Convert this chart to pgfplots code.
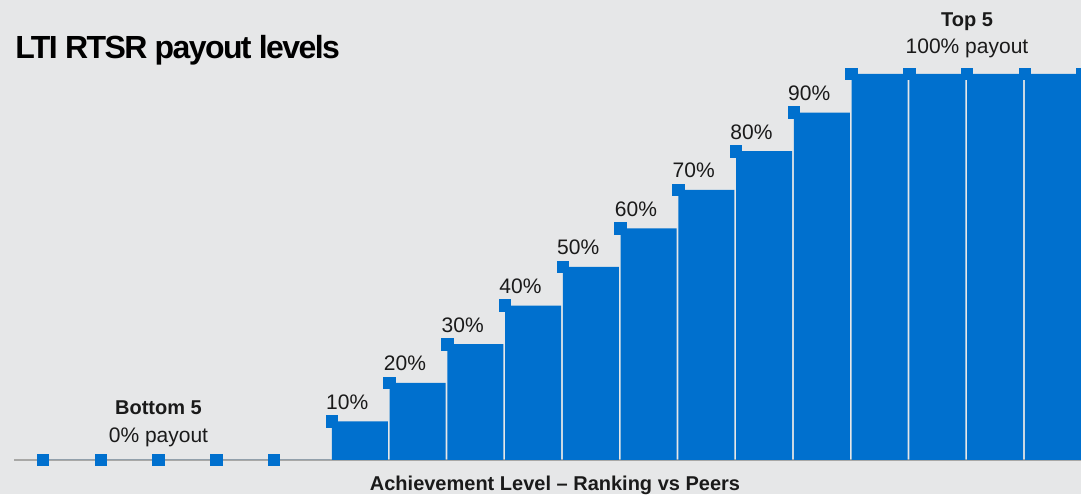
\documentclass[border=0pt]{standalone}
\usepackage{fontspec}
\setmainfont{Liberation Sans}
\newfontfamily\titlefont[LetterSpace=-5]{Liberation Sans}
\usepackage{pgfplots}
\usepackage{pgfplotstable}
\pgfplotsset{compat=1.18}

\definecolor{bg}{RGB}{230,231,232}
\definecolor{barblue}{RGB}{0,112,206}
\definecolor{axgrey}{RGB}{168,168,166}
\definecolor{txt}{RGB}{26,26,26}

% rank position, payout in %
\pgfplotstableread{
i v
0 0
1 0
2 0
3 0
4 0
5 10
6 20
7 30
8 40
9 50
10 60
11 70
12 80
13 90
14 100
15 100
16 100
17 100
18 100
}\payout

\pgfplotstableread{
i v
5 10
6 20
7 30
8 40
9 50
10 60
11 70
12 80
13 90
}\steps

\begin{document}
\begin{tikzpicture}[x=0.5pt, y=0.5pt] % 1 px of the reference = 0.5pt
\path[use as bounding box, clip] (0,0) rectangle (1081,494);
\fill[bg] (0,0) rectangle (1081,494);
\begin{axis}[
    at={(0,0)}, anchor=south west,
    scale only axis, width=540.5pt, height=247pt,
    xmin=-0.7446, xmax=17.974, ymin=-8.81, ymax=119.17,
    axis lines=none, ticks=none, clip=false,
]
    \addplot[axgrey, line width=1pt, no marks] coordinates {(-0.502,0) (18.5,0)};
    \addplot[ybar, bar width=0.97, bar shift=0pt, fill=barblue, draw=none]
        table[x expr=\thisrow{i}+0.485, y=v] {\payout};
    \addplot[only marks, mark=square*, mark size=2.9pt, color=barblue]
        table[x=i, y=v] {\payout};
    \addplot[draw=none, no marks,
        nodes near coords={\pgfmathprintnumber[fixed,precision=0,assume math mode=true]{\pgfplotspointmeta}\%},
        nodes near coords style={anchor=base west, inner sep=0pt, xshift=-3pt, yshift=6pt,
            font=\fontsize{10.5}{12}\selectfont, text=txt}]
        table[x=i, y=v] {\steps};
    \node[anchor=base, inner sep=0pt, font=\fontsize{10}{12}\selectfont\bfseries, text=txt]
        at (axis cs:2,11.9) {Bottom 5};
    \node[anchor=base, inner sep=0pt, font=\fontsize{10.5}{12}\selectfont, text=txt]
        at (axis cs:2,4.66) {0\% payout};
    \node[anchor=base, inner sep=0pt, font=\fontsize{10}{12}\selectfont\bfseries, text=txt]
        at (axis cs:16,112.2) {Top 5};
    \node[anchor=base, inner sep=0pt, font=\fontsize{10.5}{12}\selectfont, text=txt]
        at (axis cs:16,105.4) {100\% payout};
\end{axis}
\node[anchor=base west, inner sep=0pt, font=\titlefont\fontsize{16}{19}\selectfont\bfseries]
    at (15,436) {LTI RTSR payout levels};
\node[anchor=base, inner sep=0pt, font=\fontsize{10}{12}\selectfont\bfseries, text=txt]
    at (555,4) {Achievement Level – Ranking vs Peers};
\end{tikzpicture}
\end{document}
